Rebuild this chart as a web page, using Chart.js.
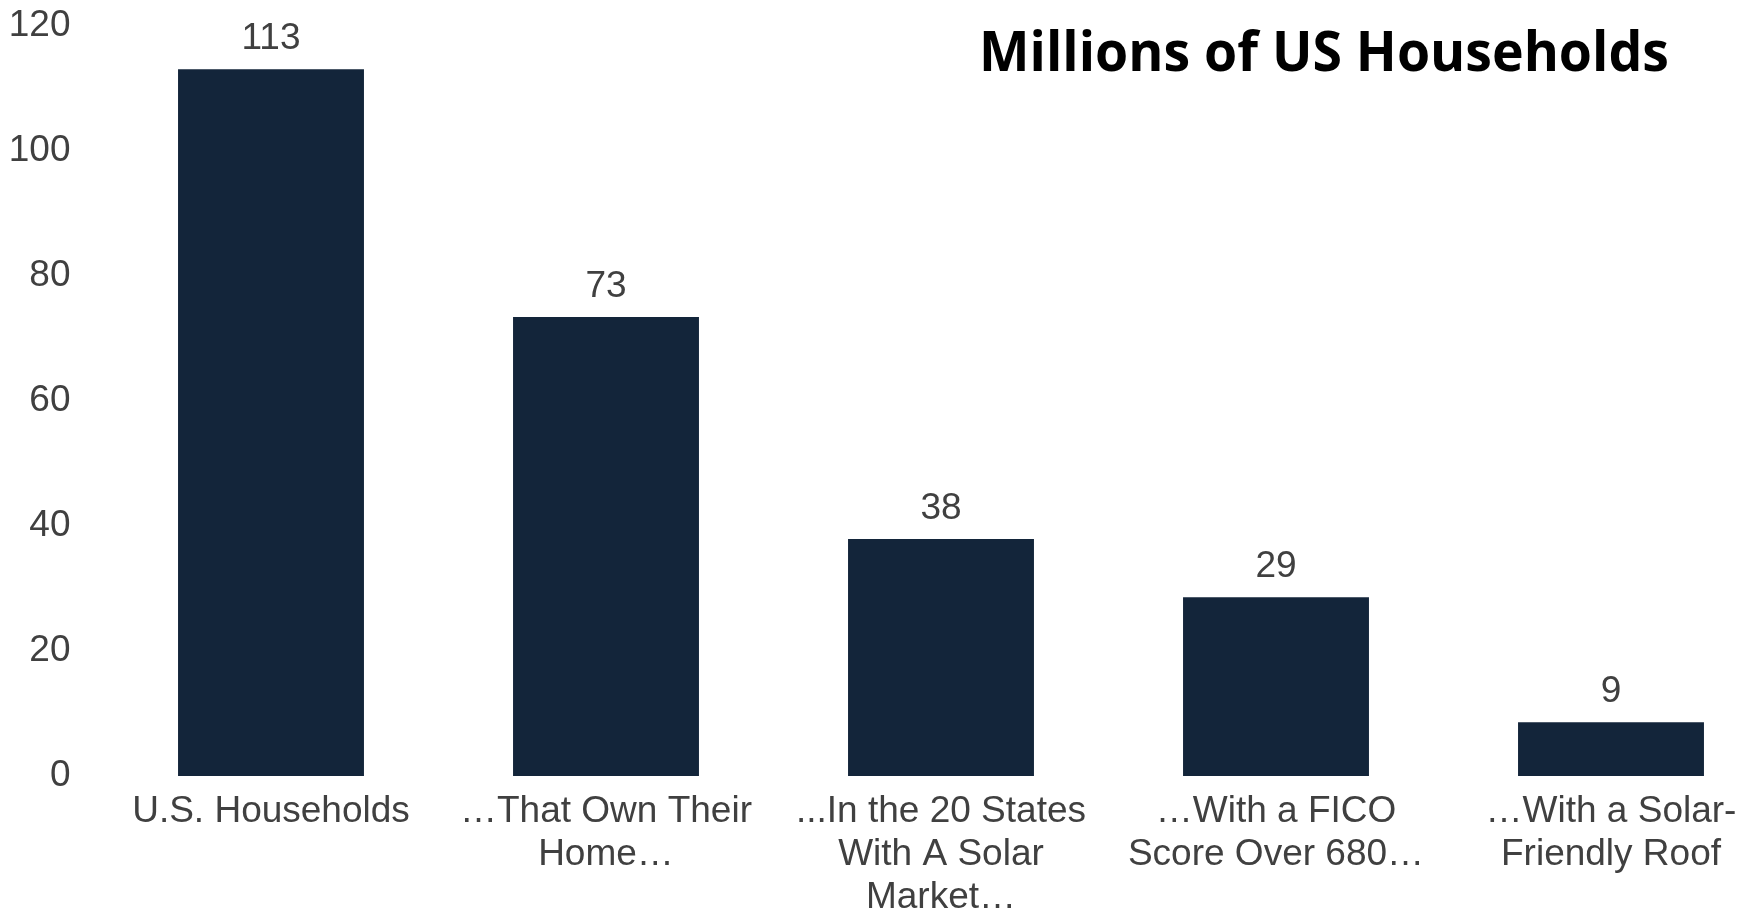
<!DOCTYPE html>
<html>
<head>
<meta charset="utf-8">
<script src="https://cdn.jsdelivr.net/npm/chart.js@4"></script>
<style>
  html, body { margin: 0; padding: 0; background: #fff; overflow: hidden; }
  #wrap { position: relative; width: 1780px; height: 908px; }
</style>
</head>
<body>
<div id="wrap"><canvas id="myChart"></canvas></div>
<script>
var categories = [
  "U.S. Households",
  ["\u2026That Own Their", "Home\u2026"],
  ["...In the 20 States", "With A Solar", "Market\u2026"],
  ["\u2026With a FICO", "Score Over 680\u2026"],
  ["\u2026With a Solar-", "Friendly Roof"]
];
var households = [113, 73.4, 37.9, 28.6, 8.6];
var yTicks = [0, 20, 40, 60, 80, 100, 120];
var chartTitle = "Millions of US Households";

var barColor = '#13253A';
var textColor = '#404040';
var baseFont = "'Liberation Sans', Arial, sans-serif";

// value labels over the bars
var valueLabels = {
  id: 'valueLabels',
  afterDatasetsDraw: function(chart) {
    var ctx = chart.ctx;
    var meta = chart.getDatasetMeta(0);
    ctx.save();
    ctx.font = '37px ' + baseFont;
    ctx.fillStyle = textColor;
    ctx.textAlign = 'center';
    ctx.textBaseline = 'alphabetic';
    meta.data.forEach(function(bar, i) {
      ctx.fillText(Math.round(households[i]), bar.x, bar.y - 20);
    });
    ctx.restore();
  }
};

// title drawn inside the plot, top right
var titleText = {
  id: 'titleText',
  afterDraw: function(chart) {
    var ctx = chart.ctx;
    ctx.save();
    ctx.font = "bold 56px 'Open Sans', sans-serif";
    ctx.fillStyle = '#000';
    ctx.textBaseline = 'alphabetic';
    ctx.textAlign = 'left';
    var w = ctx.measureText(chartTitle).width;
    var sx = 690 / w;
    ctx.translate(979, 71);
    ctx.scale(sx, 1);
    ctx.fillText(chartTitle, 0, 0);
    ctx.restore();
  }
};

var config = {
  type: 'bar',
  data: {
    labels: categories,
    datasets: [{
      label: chartTitle,
      data: households,
      backgroundColor: barColor,
      borderWidth: 0,
      barPercentage: 0.555,
      categoryPercentage: 1
    }]
  },
  options: {
    responsive: true,
    maintainAspectRatio: false,
    animation: false,
    layout: { padding: { top: 0, right: 1.5, bottom: 0, left: 0 } },
    plugins: {
      legend: { display: false },
      tooltip: { enabled: false }
    },
    scales: {
      x: {
        grid: { display: false },
        border: { display: false },
        ticks: {
          color: textColor,
          font: { family: baseFont, size: 37, lineHeight: 1.16 },
          padding: 6,
          autoSkip: false,
          maxRotation: 0,
          minRotation: 0
        },
        afterFit: function(s) { s.height = 132; }
      },
      y: {
        min: 0,
        max: 120,
        grid: { display: false },
        border: { display: false },
        afterBuildTicks: function(s) {
          s.ticks = yTicks.map(function(v) { return { value: v }; });
        },
        ticks: {
          color: textColor,
          font: { family: baseFont, size: 37 },
          padding: 25
        },
        afterFit: function(s) {
          s.width = 103.5;
          s.paddingTop = 25.5;
          s.paddingBottom = 0;
        }
      }
    }
  },
  plugins: [valueLabels, titleText]
};

var ctx = document.getElementById('myChart').getContext('2d');
var myChart = new Chart(ctx, config);
</script>
</body>
</html>
